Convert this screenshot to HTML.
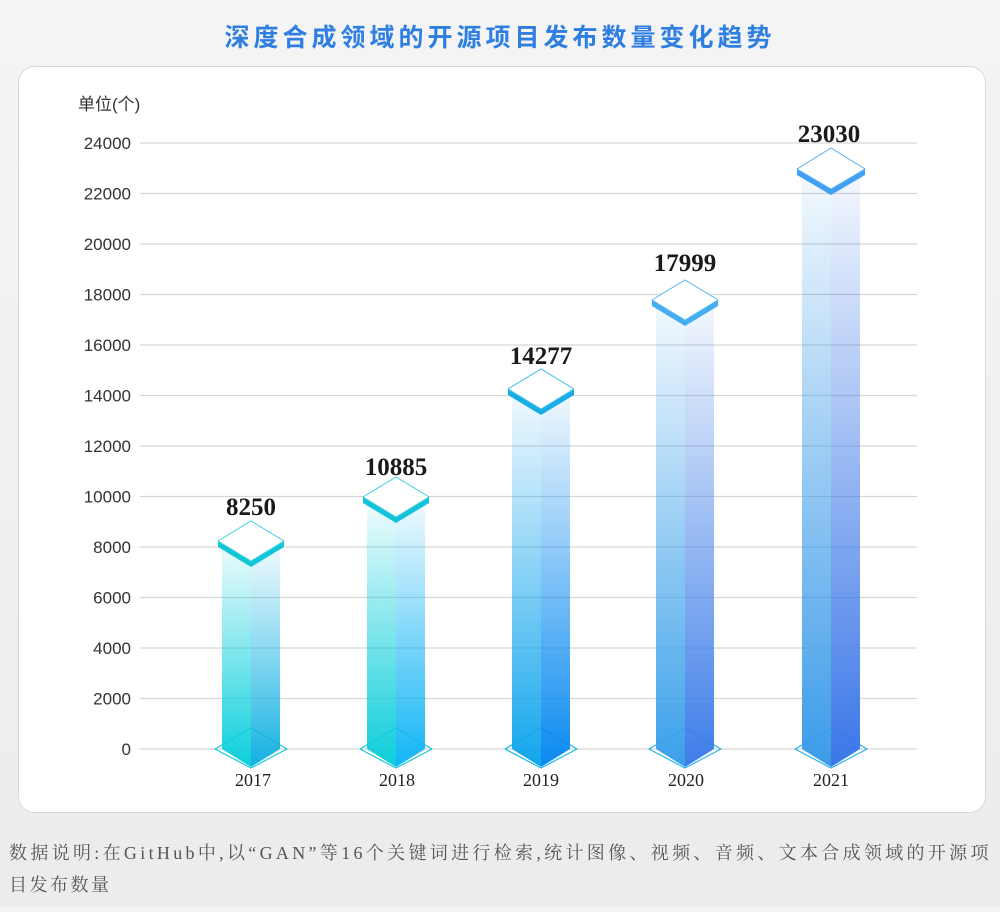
<!DOCTYPE html>
<html><head><meta charset="utf-8"><style>
html,body{margin:0;padding:0;}
body{width:1000px;height:907px;background:linear-gradient(#f4f4f4,#ececec);font-family:"Liberation Serif","Noto Serif CJK SC",serif;}
</style></head><body>
<svg width="1000" height="907" viewBox="0 0 1000 907" xmlns="http://www.w3.org/2000/svg">
<defs>
<linearGradient id="gL1" x1="0" y1="0" x2="0" y2="1"><stop offset="0" stop-color="#0bcfdc" stop-opacity="0.05"/><stop offset="1" stop-color="#0bcfdc"/></linearGradient>
<linearGradient id="gR1" x1="0" y1="0" x2="0" y2="1"><stop offset="0" stop-color="#22b8e6" stop-opacity="0.05"/><stop offset="1" stop-color="#12b0e0"/></linearGradient>
<linearGradient id="gL2" x1="0" y1="0" x2="0" y2="1"><stop offset="0" stop-color="#0bcfdc" stop-opacity="0.05"/><stop offset="1" stop-color="#0bcdd9"/></linearGradient>
<linearGradient id="gR2" x1="0" y1="0" x2="0" y2="1"><stop offset="0" stop-color="#14b4f6" stop-opacity="0.05"/><stop offset="1" stop-color="#12b5f5"/></linearGradient>
<linearGradient id="gL3" x1="0" y1="0" x2="0" y2="1"><stop offset="0" stop-color="#1aa6ee" stop-opacity="0.05"/><stop offset="1" stop-color="#11a6ec"/></linearGradient>
<linearGradient id="gR3" x1="0" y1="0" x2="0" y2="1"><stop offset="0" stop-color="#0a8af0" stop-opacity="0.05"/><stop offset="1" stop-color="#0a8af0"/></linearGradient>
<linearGradient id="gL4" x1="0" y1="0" x2="0" y2="1"><stop offset="0" stop-color="#3aa0ea" stop-opacity="0.05"/><stop offset="1" stop-color="#3aa0ea"/></linearGradient>
<linearGradient id="gR4" x1="0" y1="0" x2="0" y2="1"><stop offset="0" stop-color="#3d7de8" stop-opacity="0.05"/><stop offset="1" stop-color="#3d7de8"/></linearGradient>
<linearGradient id="gL5" x1="0" y1="0" x2="0" y2="1"><stop offset="0" stop-color="#3b9be8" stop-opacity="0.05"/><stop offset="1" stop-color="#3b9be8"/></linearGradient>
<linearGradient id="gR5" x1="0" y1="0" x2="0" y2="1"><stop offset="0" stop-color="#3a76e8" stop-opacity="0.05"/><stop offset="1" stop-color="#3a76e8"/></linearGradient>
</defs>
<text x="500" y="46" text-anchor="middle" font-size="25" font-weight="bold" fill="#2f7fe2" font-family="'Liberation Sans','Noto Sans CJK SC',sans-serif" letter-spacing="4">深度合成领域的开源项目发布数量变化趋势</text>
<rect x="18.5" y="66.5" width="967" height="746" rx="16" fill="#fff" stroke="#d8d8d8"/>
<text x="78" y="110" font-size="17" fill="#333" font-family="'Liberation Sans','Noto Sans CJK SC',sans-serif">单位(个)</text>
<g stroke="#d6d6d6" stroke-width="1.2">
<line x1="140" y1="143" x2="917" y2="143"/><line x1="140" y1="193.5" x2="917" y2="193.5"/><line x1="140" y1="244" x2="917" y2="244"/><line x1="140" y1="294.5" x2="917" y2="294.5"/><line x1="140" y1="345" x2="917" y2="345"/><line x1="140" y1="395.5" x2="917" y2="395.5"/><line x1="140" y1="446" x2="917" y2="446"/><line x1="140" y1="496.5" x2="917" y2="496.5"/><line x1="140" y1="547" x2="917" y2="547"/><line x1="140" y1="597.5" x2="917" y2="597.5"/><line x1="140" y1="648" x2="917" y2="648"/><line x1="140" y1="698.5" x2="917" y2="698.5"/><line x1="140" y1="749" x2="917" y2="749"/>
</g>
<g font-size="17" fill="#333" text-anchor="end" font-family="'Liberation Sans',sans-serif">
<text x="131" y="149">24000</text><text x="131" y="199.5">22000</text><text x="131" y="250">20000</text><text x="131" y="300.5">18000</text><text x="131" y="351">16000</text><text x="131" y="401.5">14000</text><text x="131" y="452">12000</text><text x="131" y="502.5">10000</text><text x="131" y="553">8000</text><text x="131" y="603.5">6000</text><text x="131" y="654">4000</text><text x="131" y="704.5">2000</text><text x="131" y="755">0</text>
</g>
<g>
<path d="M215,749 L251,728 L287,749 L251,768 Z" fill="none" stroke="#18c8dc" stroke-width="1.2" stroke-linejoin="round"/>
<polygon points="222,541 251,541 251,767 222,749" fill="url(#gL1)"/><polygon points="251,541 280,541 280,749 251,767" fill="url(#gR1)"/>
<polygon points="218,541 251,561 284,541 284,547 251,567 218,547" fill="#12c6d8"/>
<polygon points="218,541 251,521 284,541 251,561" fill="#fff" stroke="#3fd3e0" stroke-width="1"/>
</g>
<g>
<path d="M360,749 L396,728 L432,749 L396,768 Z" fill="none" stroke="#18c8dc" stroke-width="1.2" stroke-linejoin="round"/>
<polygon points="367,497 396,497 396,767 367,749" fill="url(#gL2)"/><polygon points="396,497 425,497 425,749 396,767" fill="url(#gR2)"/>
<polygon points="363,497 396,517 429,497 429,503 396,523 363,503" fill="#12c2d8"/>
<polygon points="363,497 396,477 429,497 396,517" fill="#fff" stroke="#3fd3e0" stroke-width="1"/>
</g>
<g>
<path d="M505,749 L541,728 L577,749 L541,768 Z" fill="none" stroke="#18b8e8" stroke-width="1.2" stroke-linejoin="round"/>
<polygon points="512,389 541,389 541,767 512,749" fill="url(#gL3)"/><polygon points="541,389 570,389 570,749 541,767" fill="url(#gR3)"/>
<polygon points="508,389 541,409 574,389 574,395 541,415 508,395" fill="#19ade6"/>
<polygon points="508,389 541,369 574,389 541,409" fill="#fff" stroke="#3fbfee" stroke-width="1"/>
</g>
<g>
<path d="M649,749 L685,728 L721,749 L685,768 Z" fill="none" stroke="#2ab4ee" stroke-width="1.2" stroke-linejoin="round"/>
<polygon points="656,300 685,300 685,767 656,749" fill="url(#gL4)"/><polygon points="685,300 714,300 714,749 685,767" fill="url(#gR4)"/>
<polygon points="652,300 685,320 718,300 718,306 685,326 652,306" fill="#45aef2"/>
<polygon points="652,300 685,280 718,300 685,320" fill="#fff" stroke="#5ab8f2" stroke-width="1"/>
</g>
<g>
<path d="M795,749 L831,728 L867,749 L831,768 Z" fill="none" stroke="#2ab4ee" stroke-width="1.2" stroke-linejoin="round"/>
<polygon points="802,169 831,169 831,767 802,749" fill="url(#gL5)"/><polygon points="831,169 860,169 860,749 831,767" fill="url(#gR5)"/>
<polygon points="797,169 831,189 865,169 865,175 831,195 797,175" fill="#42a0f2"/>
<polygon points="797,169 831,148 865,169 831,189" fill="#fff" stroke="#5ab0f4" stroke-width="1"/>
</g>
<g font-size="25" font-weight="bold" fill="#1a1a1a" text-anchor="middle">
<text x="251" y="515">8250</text><text x="396" y="475">10885</text><text x="541" y="364">14277</text><text x="685" y="271">17999</text><text x="829" y="142">23030</text>
</g>
<g font-size="18" fill="#222" text-anchor="middle">
<text x="253" y="786">2017</text><text x="397" y="786">2018</text><text x="541" y="786">2019</text><text x="686" y="786">2020</text><text x="831" y="786">2021</text>
</g>
<g font-size="18" fill="#555" letter-spacing="2.5">
<text x="9" y="859" textLength="982" lengthAdjust="spacing">数据说明:在GitHub中,以“GAN”等16个关键词进行检索,统计图像、视频、音频、文本合成领域的开源项</text>
<text x="9" y="891">目发布数量</text>
</g>
</svg>
</body></html>
